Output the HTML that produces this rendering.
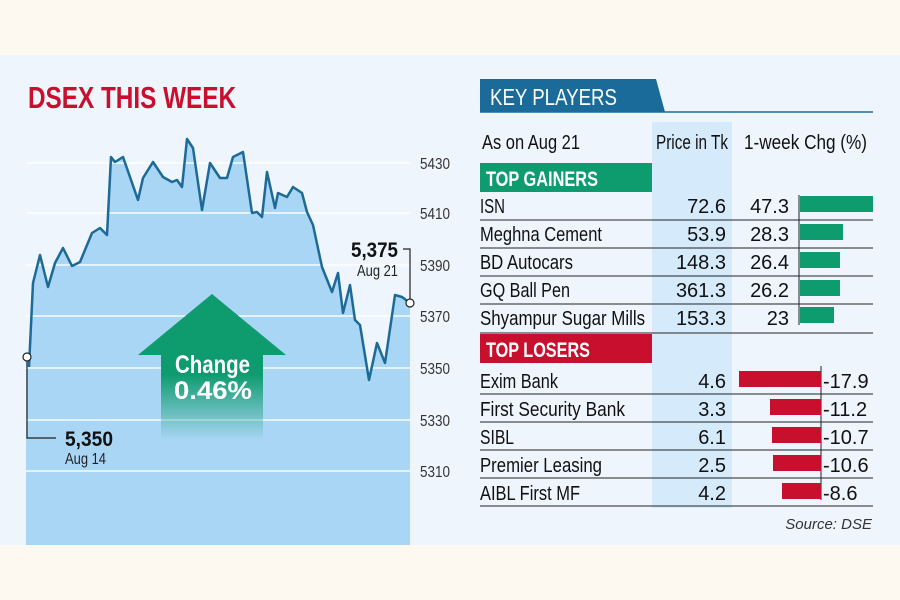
<!DOCTYPE html>
<html><head><meta charset="utf-8"><style>
html,body{margin:0;padding:0;background:#fdf8f0;}
svg{display:block}
text{font-family:"Liberation Sans",sans-serif;}
</style></head><body>
<svg width="900" height="600" viewBox="0 0 900 600" xmlns="http://www.w3.org/2000/svg">
<defs>
<linearGradient id="fade" x1="0" y1="0" x2="0" y2="1">
<stop offset="0" stop-color="#0e9b6e"/><stop offset="0.55" stop-color="#0e9b6e"/><stop offset="1" stop-color="#0e9b6e" stop-opacity="0"/>
</linearGradient>
</defs>
<rect x="0" y="55" width="900" height="490" fill="#eef5fc"/>
<text x="28" y="108" font-size="31" font-weight="bold" fill="#c8102e" textLength="208" lengthAdjust="spacingAndGlyphs">DSEX THIS WEEK</text>
<path d="M29,367 L33,283 L40,255 L48,287 L55,263 L63,248 L72,266 L80,262 L92,233 L100,228 L107,235 L111,157 L115,162 L123,157 L138,200 L143,178 L153,162 L163,177 L172,182 L177,180 L182,187 L187,139 L193,148 L202,210 L210,163 L220,178 L227,178 L233,157 L243,152 L252,213 L257,212 L262,217 L267,172 L275,208 L278,193 L287,197 L293,187 L302,193 L307,212 L313,225 L322,267 L332,292 L338,273 L343,313 L350,285 L355,320 L360,325 L369,380 L377,343 L385,363 L395,295 L402,297 L410,303 L410,545 L26,545 L26,357 Z" fill="#a9d6f5"/>
<g stroke="#fff" stroke-width="1.5" opacity="0.9">
<line x1="26" y1="163" x2="410" y2="163"/><line x1="26" y1="213" x2="410" y2="213"/><line x1="26" y1="265" x2="410" y2="265"/><line x1="26" y1="316" x2="410" y2="316"/><line x1="26" y1="368" x2="410" y2="368"/><line x1="26" y1="420" x2="410" y2="420"/><line x1="26" y1="471" x2="410" y2="471"/>
</g>
<path d="M29,367 L33,283 L40,255 L48,287 L55,263 L63,248 L72,266 L80,262 L92,233 L100,228 L107,235 L111,157 L115,162 L123,157 L138,200 L143,178 L153,162 L163,177 L172,182 L177,180 L182,187 L187,139 L193,148 L202,210 L210,163 L220,178 L227,178 L233,157 L243,152 L252,213 L257,212 L262,217 L267,172 L275,208 L278,193 L287,197 L293,187 L302,193 L307,212 L313,225 L322,267 L332,292 L338,273 L343,313 L350,285 L355,320 L360,325 L369,380 L377,343 L385,363 L395,295 L402,297 L410,303" fill="none" stroke="#1d6a97" stroke-width="2.5" stroke-linejoin="round"/>
<g font-size="16" fill="#333" lengthAdjust="spacingAndGlyphs">
<text x="420" y="169" textLength="30" lengthAdjust="spacingAndGlyphs">5430</text><text x="420" y="219" textLength="30" lengthAdjust="spacingAndGlyphs">5410</text><text x="420" y="271" textLength="30" lengthAdjust="spacingAndGlyphs">5390</text><text x="420" y="322" textLength="30" lengthAdjust="spacingAndGlyphs">5370</text><text x="420" y="374" textLength="30" lengthAdjust="spacingAndGlyphs">5350</text><text x="420" y="426" textLength="30" lengthAdjust="spacingAndGlyphs">5330</text><text x="420" y="477" textLength="30" lengthAdjust="spacingAndGlyphs">5310</text>
</g>
<path d="M212,294 L286,355 L263,355 L263,440 L161,440 L161,355 L138,355 Z" fill="url(#fade)"/>
<text x="175" y="373" font-size="25" font-weight="bold" fill="#fff" textLength="75" lengthAdjust="spacingAndGlyphs">Change</text>
<text x="174" y="399" font-size="25" font-weight="bold" fill="#fff" textLength="78" lengthAdjust="spacingAndGlyphs">0.46%</text>
<polyline points="27,360 27,438 56,438" fill="none" stroke="#222" stroke-width="1.2"/>
<circle cx="27" cy="357" r="4" fill="#fff" stroke="#222" stroke-width="1.2"/>
<text x="65" y="446" font-size="21" font-weight="bold" fill="#111" textLength="48" lengthAdjust="spacingAndGlyphs">5,350</text>
<text x="65" y="464" font-size="16" fill="#222" textLength="41" lengthAdjust="spacingAndGlyphs">Aug 14</text>
<polyline points="403,249 410,249 410,300" fill="none" stroke="#222" stroke-width="1.2"/>
<circle cx="410" cy="303" r="4" fill="#fff" stroke="#222" stroke-width="1.2"/>
<text x="351" y="257" font-size="21" font-weight="bold" fill="#111" textLength="47" lengthAdjust="spacingAndGlyphs">5,375</text>
<text x="357" y="276" font-size="16" fill="#222" textLength="41" lengthAdjust="spacingAndGlyphs">Aug 21</text>
<path d="M480,79 L656,79 L665,112 L480,112 Z" fill="#1a6b9a"/>
<line x1="480" y1="112" x2="873" y2="112" stroke="#1a6b9a" stroke-width="1.5"/>
<text x="490" y="105" font-size="23" fill="#fff" textLength="127" lengthAdjust="spacingAndGlyphs">KEY PLAYERS</text>
<rect x="652" y="122" width="80" height="386" fill="#d5eafa"/>
<g font-size="20" fill="#111">
<text x="482" y="149" textLength="98" lengthAdjust="spacingAndGlyphs">As on Aug 21</text>
<text x="656" y="149" textLength="72" lengthAdjust="spacingAndGlyphs">Price in Tk</text>
<text x="744" y="149" textLength="123" lengthAdjust="spacingAndGlyphs">1-week Chg (%)</text>
</g>
<rect x="480" y="163" width="172" height="29" fill="#0e9b6e"/>
<text x="486" y="186" font-size="21" font-weight="bold" fill="#fff" textLength="112" lengthAdjust="spacingAndGlyphs">TOP GAINERS</text>
<rect x="480" y="334" width="172" height="29" fill="#c8102e"/>
<text x="486" y="357" font-size="21" font-weight="bold" fill="#fff" textLength="104" lengthAdjust="spacingAndGlyphs">TOP LOSERS</text>
<g stroke="#222" stroke-width="1">
<line x1="480" y1="220" x2="873" y2="220"/><line x1="480" y1="248" x2="873" y2="248"/><line x1="480" y1="276" x2="873" y2="276"/><line x1="480" y1="304" x2="873" y2="304"/><line x1="480" y1="333" x2="873" y2="333"/>
<line x1="480" y1="394" x2="873" y2="394"/><line x1="480" y1="422" x2="873" y2="422"/><line x1="480" y1="450" x2="873" y2="450"/><line x1="480" y1="478" x2="873" y2="478"/><line x1="480" y1="506" x2="873" y2="506"/>
<line x1="799" y1="195" x2="799" y2="325"/><line x1="821" y1="366" x2="821" y2="500"/>
</g>
<g fill="#0e9b6e">
<rect x="800" y="196" width="73" height="16"/><rect x="800" y="224" width="43" height="16"/><rect x="800" y="252" width="40" height="16"/><rect x="800" y="280" width="40" height="16"/><rect x="800" y="307" width="34" height="16"/>
</g>
<g fill="#c8102e">
<rect x="739" y="371" width="82" height="16"/><rect x="770" y="399" width="51" height="16"/><rect x="772" y="427" width="49" height="16"/><rect x="773" y="455" width="48" height="16"/><rect x="782" y="483" width="39" height="16"/>
</g>
<g font-size="20" fill="#111">
<text x="480" y="213" textLength="25" lengthAdjust="spacingAndGlyphs">ISN</text>
<text x="480" y="241" textLength="122" lengthAdjust="spacingAndGlyphs">Meghna Cement</text>
<text x="480" y="269" textLength="93" lengthAdjust="spacingAndGlyphs">BD Autocars</text>
<text x="480" y="297" textLength="90" lengthAdjust="spacingAndGlyphs">GQ Ball Pen</text>
<text x="480" y="325" textLength="165" lengthAdjust="spacingAndGlyphs">Shyampur Sugar Mills</text>
<text x="480" y="388" textLength="78" lengthAdjust="spacingAndGlyphs">Exim Bank</text>
<text x="480" y="416" textLength="145" lengthAdjust="spacingAndGlyphs">First Security Bank</text>
<text x="480" y="444" textLength="34" lengthAdjust="spacingAndGlyphs">SIBL</text>
<text x="480" y="472" textLength="122" lengthAdjust="spacingAndGlyphs">Premier Leasing</text>
<text x="480" y="500" textLength="100" lengthAdjust="spacingAndGlyphs">AIBL First MF</text>
</g>
<g font-size="20" fill="#111" text-anchor="end">
<text x="726" y="213">72.6</text><text x="726" y="241">53.9</text><text x="726" y="269">148.3</text><text x="726" y="297">361.3</text><text x="726" y="325">153.3</text>
<text x="726" y="388">4.6</text><text x="726" y="416">3.3</text><text x="726" y="444">6.1</text><text x="726" y="472">2.5</text><text x="726" y="500">4.2</text>
<text x="789" y="213">47.3</text><text x="789" y="241">28.3</text><text x="789" y="269">26.4</text><text x="789" y="297">26.2</text><text x="789" y="325">23</text>
</g>
<g font-size="20" fill="#111">
<text x="823" y="388">-17.9</text><text x="823" y="416">-11.2</text><text x="823" y="444">-10.7</text><text x="823" y="472">-10.6</text><text x="823" y="500">-8.6</text>
</g>
<text x="872" y="529" font-size="15" font-style="italic" fill="#333" text-anchor="end">Source: DSE</text>
</svg>
</body></html>
